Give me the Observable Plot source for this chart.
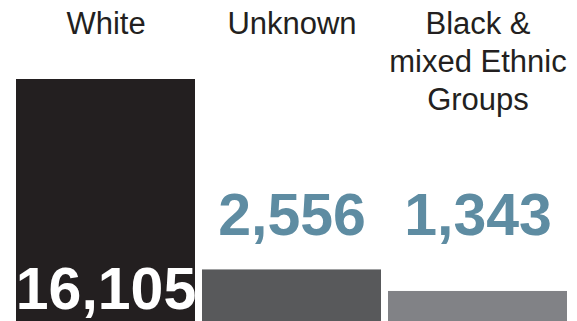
<!DOCTYPE html>
<html>
<head>
<meta charset="utf-8">
<script src="https://cdn.jsdelivr.net/npm/d3@7"></script>
<script src="https://cdn.jsdelivr.net/npm/@observablehq/plot@0.6"></script>
<style>
  html, body { margin: 0; padding: 0; background: #ffffff; }
  #chart svg { display: block; }
</style>
</head>
<body>
<div id="chart"></div>
<script>
// Data
const categories = ["White", "Unknown", "Black &\nmixed Ethnic\nGroups"];
const values = [16105, 2556, 1343];

// Styling
const barColors = ["#231f20", "#58595b", "#818286"];
const labelColor = "#5e8ca2";
const textColor = "#231f20";

const data = categories.map((c, i) => ({category: c, value: values[i]}));
const maxVal = d3.max(values);
const fmt = d3.format(",");

const chart = Plot.plot({
  width: 577,
  height: 321,
  marginTop: 0,
  marginBottom: 0,
  marginLeft: 16,
  marginRight: 9,
  style: {fontFamily: "'Liberation Sans', Arial, sans-serif", background: "#ffffff"},
  x: {domain: categories, paddingInner: 0.035, paddingOuter: 0, axis: null},
  y: {type: "pow", exponent: 0.84, domain: [0, maxVal], range: [321, 79], axis: null},
  color: {domain: categories, range: barColors},
  marks: [
    Plot.barY(data, {x: "category", y: "value", fill: "category"}),
    Plot.text(data, {
      x: "category", text: "category",
      frameAnchor: "top", lineAnchor: "top", dy: 6,
      fontSize: 31, lineHeight: 1.23, fill: textColor
    }),
    Plot.text(data.filter(d => d.value === maxVal), {
      x: "category", text: d => fmt(d.value),
      frameAnchor: "bottom", lineAnchor: "bottom", dy: -13,
      fontSize: 59, fontWeight: "bold", fill: "#ffffff", letterSpacing: "-0.5px"
    }),
    Plot.text(data.filter(d => d.value !== maxVal), {
      x: "category", text: d => fmt(d.value),
      frameAnchor: "bottom", lineAnchor: "bottom", dy: -87,
      fontSize: 59, fontWeight: "bold", fill: labelColor, letterSpacing: "-0.5px"
    })
  ]
});
document.getElementById("chart").appendChild(chart);
</script>
</body>
</html>
